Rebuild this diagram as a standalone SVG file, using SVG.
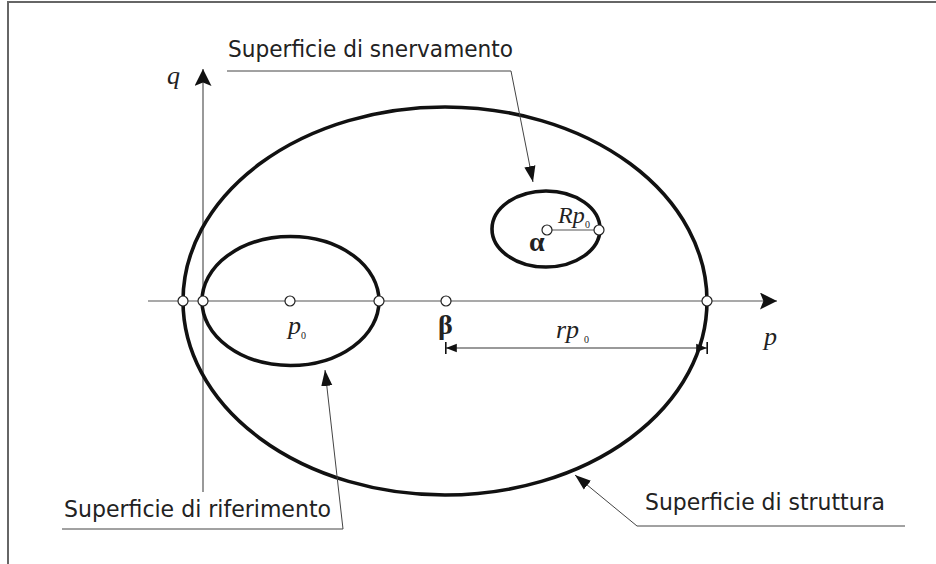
<svg xmlns="http://www.w3.org/2000/svg" width="936" height="564" viewBox="0 0 936 564">
<style>
.frame{stroke:#666;stroke-width:2;fill:none}
.axis{stroke:#555;stroke-width:1.2;fill:none}
.curve{stroke:#111;stroke-width:3.6;fill:none}
.pt{fill:#fff;stroke:#222;stroke-width:1.2}
.lead{stroke:#444;stroke-width:1;fill:none}
.lbl{font-family:"DejaVu Sans",Verdana,sans-serif;font-size:23px;fill:#222}
.math{font-family:"Liberation Serif","Times New Roman",serif;font-style:italic;font-size:26px;fill:#222}
.sub{font-family:"Liberation Serif",serif;font-size:10px;fill:#222}
.bold{font-family:"Liberation Serif",serif;font-weight:bold;font-size:28px;fill:#222}
.dim{stroke:#777;stroke-width:1.4;fill:none}
</style>
<defs>
<marker id="arr" viewBox="0 0 10 10" refX="10" refY="5" markerWidth="17" markerHeight="17" markerUnits="userSpaceOnUse" orient="auto"><path d="M0,0 L10,5 L0,10 L2,5 Z" fill="#111"/></marker>
<marker id="arrS" viewBox="0 0 10 10" refX="10" refY="5" markerWidth="16" markerHeight="16" markerUnits="userSpaceOnUse" orient="auto"><path d="M0,1.5 L10,5 L0,8.5 Z" fill="#111"/></marker>
<marker id="bar" viewBox="0 0 10 10" refX="9" refY="5" markerWidth="12" markerHeight="12" markerUnits="userSpaceOnUse" orient="auto"><path d="M0,1.5 L9,5 L0,8.5 Z" fill="#111"/><rect x="8.5" y="0" width="1.5" height="10" fill="#111"/></marker>
</defs>
<path class="frame" d="M8,564 L8,2 L936,2"/>
<g id="axes">
<line class="axis" x1="148" y1="301" x2="777" y2="301" marker-end="url(#arr)"/>
<line class="axis" x1="203" y1="492" x2="203" y2="69" marker-end="url(#arr)"/>
<text class="math" x="167" y="84">q</text>
<text class="math" x="764" y="345">p</text>
</g>
<g id="struttura">
<ellipse class="curve" cx="445" cy="301" rx="262" ry="194"/>
</g>
<g id="riferimento">
<ellipse class="curve" cx="290.5" cy="301" rx="88.5" ry="64.5"/>
</g>
<g id="snervamento">
<ellipse class="curve" cx="546" cy="229" rx="54" ry="38"/>
<line class="axis" x1="547" y1="230" x2="599" y2="230"/>
<text class="math" x="558" y="223" style="font-size:24px">Rp</text>
<text class="sub" x="585" y="228">0</text>
<text class="bold" x="529" y="251">α</text>
</g>
<g id="points">
<circle class="pt" cx="183" cy="301" r="5"/>
<circle class="pt" cx="203" cy="301" r="5"/>
<circle class="pt" cx="290" cy="301" r="5"/>
<circle class="pt" cx="379" cy="301" r="5"/>
<circle class="pt" cx="446" cy="301" r="5"/>
<circle class="pt" cx="707" cy="301" r="5"/>
<circle class="pt" cx="547" cy="230" r="5"/>
<circle class="pt" cx="599" cy="230" r="5"/>
</g>
<g id="labels-math">
<text class="math" x="288" y="334">p</text>
<text class="sub" x="301" y="339">0</text>
<text class="bold" x="438" y="334">β</text>
<text class="math" x="556" y="338">rp</text>
<text class="sub" x="584" y="343">0</text>
</g>
<g id="dimension">
<line class="dim" x1="576" y1="348" x2="446" y2="348" marker-end="url(#bar)"/>
<line class="dim" x1="576" y1="348" x2="707" y2="348" marker-end="url(#bar)"/>
</g>
<g id="connectors">
<polyline class="lead" points="227,71 511,71 533,182" marker-end="url(#arrS)"/>
<polyline class="lead" points="62,529 343,529 325,370" marker-end="url(#arrS)"/>
<polyline class="lead" points="905,526 637,526 575,475" marker-end="url(#arrS)"/>
</g>
<g id="text-labels">
<text class="lbl" x="228" y="57" textLength="285" lengthAdjust="spacingAndGlyphs">Superficie di snervamento</text>
<text class="lbl" x="64" y="517" textLength="267" lengthAdjust="spacingAndGlyphs">Superficie di riferimento</text>
<text class="lbl" x="645" y="510" textLength="240" lengthAdjust="spacingAndGlyphs">Superficie di struttura</text>
</g>
</svg>
